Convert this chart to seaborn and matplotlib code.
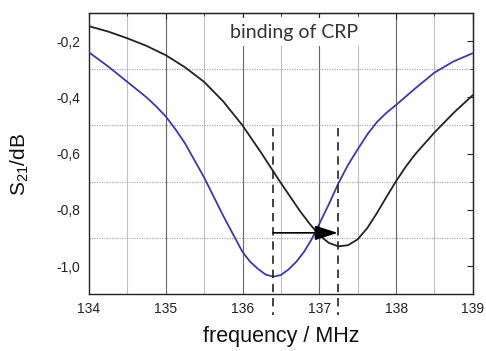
import matplotlib
matplotlib.use("Agg")
import matplotlib.pyplot as plt
import seaborn as sns
import pandas as pd
import numpy as np
from matplotlib.ticker import MultipleLocator, FixedLocator

# --- data ---
freq_blue = [134.0, 134.25, 134.5, 134.75, 134.875, 135.0, 135.125, 135.25, 135.5,
             135.75, 136.0, 136.1, 136.2, 136.3, 136.4, 136.5, 136.6, 136.7, 136.8,
             136.9, 137.0, 137.125, 137.25, 137.375, 137.5, 137.625, 137.75,
             137.875, 138.0, 138.25, 138.5, 138.75, 139.0]
s21_blue = [-0.240, -0.290, -0.345, -0.400, -0.432, -0.468, -0.513, -0.563, -0.685,
            -0.822, -0.950, -0.985, -1.010, -1.030, -1.038, -1.032, -1.012, -0.985,
            -0.950, -0.905, -0.850, -0.780, -0.705, -0.640, -0.585, -0.532, -0.488,
            -0.455, -0.427, -0.368, -0.312, -0.272, -0.243]

freq_black = [134.0, 134.25, 134.5, 134.75, 135.0, 135.25, 135.5, 135.75, 136.0,
              136.25, 136.5, 136.75, 136.875, 137.0, 137.125, 137.25, 137.375,
              137.5, 137.625, 137.75, 137.875, 138.0, 138.125, 138.25, 138.5,
              138.75, 139.0]
s21_black = [-0.147, -0.166, -0.190, -0.217, -0.250, -0.293, -0.345, -0.415, -0.500,
             -0.600, -0.705, -0.805, -0.850, -0.890, -0.918, -0.930, -0.926,
             -0.905, -0.865, -0.812, -0.754, -0.698, -0.647, -0.602, -0.525,
             -0.455, -0.392]

x_ticks = [134, 135, 136, 137, 138, 139]
x_ticklabels = ["134", "135", "136", "137", "138", "139"]
y_ticks = [-1.0, -0.8, -0.6, -0.4, -0.2]
y_ticklabels = ["-1,0", "-0,8", "-0,6", "-0,4", "-0,2"]

res_before = 136.4
res_after = 137.24
arrow_level = -0.882

sns.set_style("white")
plt.rcParams['font.family'] = ['Liberation Sans', 'DejaVu Sans']
plt.rcParams['mathtext.fontset'] = 'custom'
plt.rcParams['mathtext.rm'] = 'Liberation Sans'

fig = plt.figure(figsize=(4.86, 3.51), dpi=100)
ax = fig.add_axes([0.183, 0.162, 0.790, 0.801])

df_blue = pd.DataFrame({"f": freq_blue, "s": s21_blue})
df_black = pd.DataFrame({"f": freq_black, "s": s21_black})

# grid
for xv in np.arange(134.5, 139.0, 0.5):
    if float(xv).is_integer():
        ax.axvline(xv, color="#666666", lw=0.8, zorder=0)
    else:
        ax.axvline(xv, color="#c0c0c0", lw=0.8, zorder=0)
for yv in [-0.3, -0.5, -0.7, -0.9]:
    ax.axhline(yv, color="#aaaaaa", lw=0.9, ls=(0, (1, 1)), zorder=0)

sns.lineplot(data=df_black, x="f", y="s", ax=ax, color="#222222", lw=1.3, zorder=3)
sns.lineplot(data=df_blue, x="f", y="s", ax=ax, color="#3a3aaa", lw=1.3, zorder=3)

# dashed resonance markers (extend below axis)
for xv in [res_before, res_after]:
    ax.plot([xv, xv], [-0.51, -1.175], color="#222222", lw=1.2,
            ls=(0, (5, 3.5)), clip_on=False, zorder=4)

ax.annotate("", xy=(res_after, arrow_level), xytext=(res_before, arrow_level),
            arrowprops=dict(arrowstyle="-|>,head_length=1.4,head_width=0.45",
                            color="black", lw=1.2, shrinkA=0, shrinkB=0), zorder=5)

ax.text(136.67, -0.168, "binding of CRP", ha="center", va="center",
        fontsize=14, color="#333333", family=["Lato", "DejaVu Sans"],
        bbox=dict(facecolor="white", edgecolor="none", pad=4), zorder=2)

ax.set_xlim(134, 139)
ax.set_ylim(-1.1, -0.1)
ax.xaxis.set_major_locator(FixedLocator(x_ticks))
ax.set_xticklabels(x_ticklabels)
ax.xaxis.set_minor_locator(MultipleLocator(0.5))
ax.yaxis.set_major_locator(FixedLocator(y_ticks))
ax.set_yticklabels(y_ticklabels)
ax.yaxis.set_minor_locator(MultipleLocator(0.1))

ax.tick_params(axis="both", which="major", direction="out", length=4, width=1,
               labelsize=10, colors="#222222", pad=2)
ax.tick_params(axis="both", which="minor", direction="out", length=2.5, width=1)

# inward ticks on top/right via secondary axes
secx = ax.secondary_xaxis("top")
secx.xaxis.set_major_locator(FixedLocator(x_ticks))
secx.xaxis.set_minor_locator(MultipleLocator(0.5))
secx.tick_params(which="major", direction="in", length=4, labeltop=False)
secx.tick_params(which="minor", direction="in", length=2.5)
secx.set_xticklabels([])
secy = ax.secondary_yaxis("right")
secy.yaxis.set_major_locator(FixedLocator(y_ticks))
secy.yaxis.set_minor_locator(MultipleLocator(0.1))
secy.tick_params(which="major", direction="in", length=4)
secy.tick_params(which="minor", direction="in", length=2.5)
secy.set_yticklabels([])
ax.tick_params(top=False, right=False, which="both")

for sp in ax.spines.values():
    sp.set_color("#222222")
    sp.set_linewidth(1.0)
secx.spines["top"].set_color("#222222")
secy.spines["right"].set_color("#222222")

ax.set_xlabel("frequency / MHz", fontsize=15.5, color="#111111")
ax.xaxis.set_label_coords(0.5, -0.112)
ax.set_ylabel("S$_\\mathregular{21}$/dB", fontsize=15, color="#111111")
ax.yaxis.set_label_coords(-0.152, 0.46)

fig.savefig("out.png", dpi=100)
